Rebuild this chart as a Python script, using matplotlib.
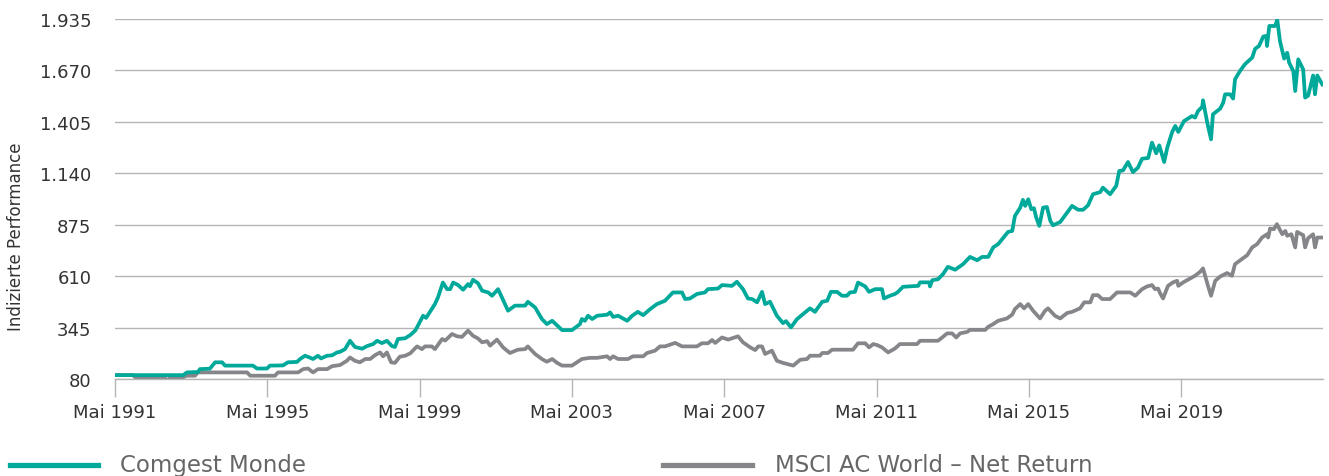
import numpy as np
import matplotlib
matplotlib.use("Agg")
import matplotlib.pyplot as plt
from matplotlib.lines import Line2D
from matplotlib.ticker import FuncFormatter

# data (decimal years, indexed performance)
comgest_t = [1991.33, 1993.12, 1993.22, 1993.51, 1993.56, 1993.82, 1993.96, 1994.14, 1994.22, 1994.95,
             1995.06, 1995.32, 1995.40, 1995.74, 1995.87, 1996.11, 1996.19, 1996.32, 1996.45, 1996.53,
             1996.66, 1996.74, 1996.84, 1996.90, 1997.03, 1997.16, 1997.24, 1997.37, 1997.50, 1997.63,
             1997.82, 1997.95, 1998.11, 1998.21, 1998.34, 1998.47, 1998.60, 1998.68, 1998.76, 1998.95,
             1999.08, 1999.21, 1999.26, 1999.42, 1999.50, 1999.73, 1999.81, 1999.94, 2000.05, 2000.13,
             2000.21, 2000.34, 2000.47, 2000.60, 2000.65, 2000.73, 2000.86, 2000.97, 2001.13, 2001.23,
             2001.39, 2001.65, 2001.83, 2002.10, 2002.17, 2002.36, 2002.54, 2002.67, 2002.81, 2003.07,
             2003.33, 2003.54, 2003.59, 2003.67, 2003.75, 2003.86, 2003.99, 2004.25, 2004.33, 2004.41,
             2004.54, 2004.78, 2004.91, 2005.06, 2005.20, 2005.38, 2005.56, 2005.77, 2005.98, 2006.22,
             2006.30, 2006.43, 2006.61, 2006.82, 2006.90, 2007.16, 2007.27, 2007.53, 2007.66, 2007.82,
             2007.95, 2008.06, 2008.19, 2008.32, 2008.40, 2008.53, 2008.71, 2008.87, 2008.95, 2009.08,
             2009.24, 2009.40, 2009.58, 2009.71, 2009.90, 2010.03, 2010.13, 2010.29, 2010.42, 2010.55,
             2010.63, 2010.76, 2010.84, 2011.03, 2011.13, 2011.29, 2011.47, 2011.52, 2011.68, 2011.81,
             2011.89, 2012.02, 2012.42, 2012.47, 2012.71, 2012.73, 2012.79, 2012.94, 2013.07, 2013.20,
             2013.39, 2013.60, 2013.78, 2013.97, 2014.10, 2014.26, 2014.39, 2014.52, 2014.78, 2014.89,
             2014.96, 2015.10, 2015.17, 2015.23, 2015.31, 2015.39, 2015.46, 2015.52, 2015.60, 2015.70,
             2015.80, 2015.89, 2015.96, 2016.15, 2016.46, 2016.62, 2016.75, 2016.88, 2017.01, 2017.20,
             2017.27, 2017.46, 2017.62, 2017.70, 2017.80, 2017.93, 2018.06, 2018.19, 2018.30, 2018.46,
             2018.56, 2018.67, 2018.75, 2018.88, 2018.96, 2019.09, 2019.17, 2019.25, 2019.40, 2019.61,
             2019.69, 2019.77, 2019.88, 2019.90, 2020.01, 2020.11, 2020.16, 2020.35, 2020.43, 2020.48,
             2020.61, 2020.69, 2020.74, 2020.87, 2021.00, 2021.19, 2021.27, 2021.37, 2021.48, 2021.56,
             2021.58, 2021.64, 2021.79, 2021.85, 2021.92, 2022.03, 2022.11, 2022.16, 2022.27, 2022.32,
             2022.40, 2022.53, 2022.58, 2022.66, 2022.79, 2022.84, 2022.90, 2023.03]
comgest_v = [100, 100, 114, 116, 131, 133, 166, 166, 149, 149,
             134, 134, 149, 150, 166, 168, 183, 200, 190, 183,
             200, 186, 195, 200, 202, 217, 220, 234, 277, 245,
             236, 250, 260, 277, 265, 277, 250, 245, 286, 290,
             306, 329, 346, 406, 395, 466, 500, 577, 543, 543,
             577, 564, 540, 569, 558, 591, 574, 535, 526, 509,
             543, 432, 458, 458, 478, 449, 389, 363, 380, 332,
             332, 363, 389, 380, 406, 389, 406, 411, 423, 400,
             406, 380, 406, 426, 409, 440, 466, 483, 526, 526,
             492, 495, 518, 526, 543, 546, 564, 560, 581, 543,
             495, 492, 475, 529, 466, 478, 406, 368, 378, 346,
             389, 415, 444, 426, 478, 483, 529, 529, 509, 509,
             526, 529, 577, 557, 529, 543, 543, 495, 509, 518,
             529, 555, 560, 578, 578, 557, 589, 594, 620, 658,
             643, 672, 709, 692, 709, 709, 758, 775, 838, 843,
             920, 963, 1003, 972, 1006, 955, 960, 912, 869, 963,
             966, 895, 872, 889, 972, 952, 952, 975, 1032, 1043,
             1066, 1032, 1075, 1152, 1155, 1198, 1146, 1169, 1215, 1219,
             1298, 1243, 1284, 1198, 1272, 1353, 1384, 1353, 1409, 1435,
             1427, 1461, 1483, 1516, 1401, 1315, 1444, 1473, 1504, 1547,
             1547, 1525, 1624, 1667, 1702, 1736, 1782, 1796, 1844, 1848,
             1796, 1899, 1899, 1931, 1821, 1731, 1761, 1710, 1667, 1564,
             1727, 1675, 1530, 1540, 1644, 1547, 1644, 1598]

msci_t = [1991.33, 1991.80, 1991.86, 1992.64, 1992.72, 1992.77, 1993.12, 1993.22, 1993.43, 1993.51,
          1994.80, 1994.88, 1995.53, 1995.61, 1996.14, 1996.27, 1996.40, 1996.53, 1996.66, 1996.90,
          1997.03, 1997.24, 1997.42, 1997.50, 1997.63, 1997.76, 1997.90, 1998.03, 1998.16, 1998.29,
          1998.37, 1998.47, 1998.58, 1998.68, 1998.81, 1998.95, 1999.08, 1999.26, 1999.39, 1999.47,
          1999.65, 1999.73, 1999.92, 2000.00, 2000.18, 2000.31, 2000.44, 2000.60, 2000.73, 2000.86,
          2000.97, 2001.10, 2001.18, 2001.36, 2001.52, 2001.70, 2001.91, 2002.10, 2002.17, 2002.36,
          2002.54, 2002.67, 2002.81, 2002.94, 2003.07, 2003.33, 2003.46, 2003.59, 2003.80, 2003.99,
          2004.25, 2004.33, 2004.41, 2004.54, 2004.80, 2004.93, 2005.20, 2005.30, 2005.51, 2005.64,
          2005.77, 2006.04, 2006.22, 2006.61, 2006.74, 2006.90, 2007.01, 2007.09, 2007.27, 2007.43,
          2007.69, 2007.82, 2008.01, 2008.14, 2008.22, 2008.32, 2008.40, 2008.58, 2008.71, 2008.87,
          2009.14, 2009.32, 2009.50, 2009.58, 2009.84, 2009.90, 2010.05, 2010.16, 2010.71, 2010.84,
          2011.03, 2011.13, 2011.24, 2011.34, 2011.47, 2011.63, 2011.81, 2011.94, 2012.39, 2012.47,
          2012.94, 2013.05, 2013.18, 2013.31, 2013.42, 2013.52, 2013.71, 2013.78, 2014.18, 2014.26,
          2014.39, 2014.52, 2014.75, 2014.89, 2014.96, 2015.10, 2015.20, 2015.31, 2015.44, 2015.62,
          2015.75, 2015.83, 2016.01, 2016.15, 2016.33, 2016.46, 2016.67, 2016.78, 2016.94, 2017.01,
          2017.14, 2017.25, 2017.46, 2017.64, 2017.99, 2018.12, 2018.30, 2018.43, 2018.56, 2018.64,
          2018.72, 2018.77, 2018.85, 2018.98, 2019.11, 2019.22, 2019.25, 2019.38, 2019.61, 2019.69,
          2019.82, 2019.90, 2020.03, 2020.11, 2020.22, 2020.35, 2020.53, 2020.66, 2020.74, 2020.92,
          2021.06, 2021.19, 2021.32, 2021.45, 2021.58, 2021.61, 2021.66, 2021.76, 2021.84, 2021.98,
          2022.06, 2022.11, 2022.22, 2022.32, 2022.37, 2022.53, 2022.58, 2022.66, 2022.79, 2022.84,
          2022.90, 2023.05]
msci_v = [100, 100, 89, 86, 66, 89, 89, 97, 97, 114,
          114, 97, 97, 114, 114, 131, 134, 114, 131, 131,
          146, 152, 174, 191, 174, 166, 183, 183, 203, 217,
          197, 217, 166, 163, 195, 200, 212, 248, 234, 248,
          248, 234, 286, 278, 312, 300, 297, 329, 303, 289,
          269, 275, 252, 283, 243, 214, 231, 234, 248, 209,
          183, 169, 183, 163, 149, 149, 166, 183, 189, 189,
          197, 183, 197, 183, 183, 197, 197, 214, 226, 248,
          248, 266, 248, 248, 264, 264, 281, 266, 294, 283,
          300, 269, 243, 229, 248, 248, 209, 226, 174, 163,
          149, 179, 183, 200, 200, 214, 214, 231, 231, 264,
          264, 243, 260, 255, 243, 217, 237, 260, 260, 277,
          277, 294, 315, 315, 294, 315, 323, 333, 333, 349,
          363, 380, 392, 412, 440, 466, 444, 466, 431, 392,
          431, 444, 406, 392, 420, 426, 444, 475, 475, 512,
          512, 492, 492, 526, 526, 509, 543, 557, 564, 543,
          546, 523, 495, 560, 578, 586, 560, 578, 603, 612,
          632, 650, 560, 509, 586, 608, 626, 612, 672, 698,
          718, 758, 775, 809, 826, 809, 855, 852, 878, 826,
          843, 818, 826, 758, 838, 821, 758, 806, 826, 758,
          809, 809]

tick_years = [1991, 1995, 1999, 2003, 2007, 2011, 2015, 2019]
y_ticks = [80, 345, 610, 875, 1140, 1405, 1670, 1935]

teal = "#00A99A"
grey = "#858689"
text_col = "#333333"

plt.rcParams['font.family'] = ['DejaVu Sans']

fig = plt.figure(figsize=(13.29, 4.77), dpi=100)
ax = fig.add_axes([115/1329, 97/477, 1208/1329, 360/477])

ax.plot(msci_t, msci_v, color=grey, linewidth=2.7, solid_joinstyle='round')
ax.plot(comgest_t, comgest_v, color=teal, linewidth=2.7, solid_joinstyle='round')

ax.set_xlim(1991.33, 2023.05)
ax.set_ylim(80, 1935)
ax.set_yticks(y_ticks)
ax.yaxis.set_major_formatter(FuncFormatter(lambda v, p: f"{int(v):,}".replace(",", ".")))
ax.set_xticks([y + 0.33 for y in tick_years])
ax.set_xticklabels(["Mai " + str(y) for y in tick_years])

ax.grid(axis='y', color="#b5b5b5", linewidth=1.0)
ax.set_axisbelow(True)
for s in ['top', 'right', 'left']:
    ax.spines[s].set_visible(False)
ax.spines['bottom'].set_color("#b5b5b5")
ax.spines['bottom'].set_linewidth(1.0)
ax.tick_params(axis='y', length=0, pad=17, labelsize=13, labelcolor=text_col)
ax.tick_params(axis='x', length=13, width=1, color="#b5b5b5", pad=4, labelsize=13, labelcolor=text_col)

fig.text(16/1329, (477 - 237)/477, "Indizierte Performance", rotation=90,
         ha='center', va='center', fontsize=12, color=text_col)

# legend drawn by hand below the axis
fig.add_artist(Line2D([10/1329, 98/1329], [11/477, 11/477], color=teal, linewidth=3.8))
fig.text(120/1329, 11/477, "Comgest Monde", ha='left', va='center', fontsize=16.5, color="#666666")
fig.add_artist(Line2D([663/1329, 752/1329], [11/477, 11/477], color=grey, linewidth=3.8))
fig.text(775/1329, 11/477, "MSCI AC World \u2013 Net Return", ha='left', va='center', fontsize=16.5, color="#666666")

fig.savefig("out.png", dpi=100)
